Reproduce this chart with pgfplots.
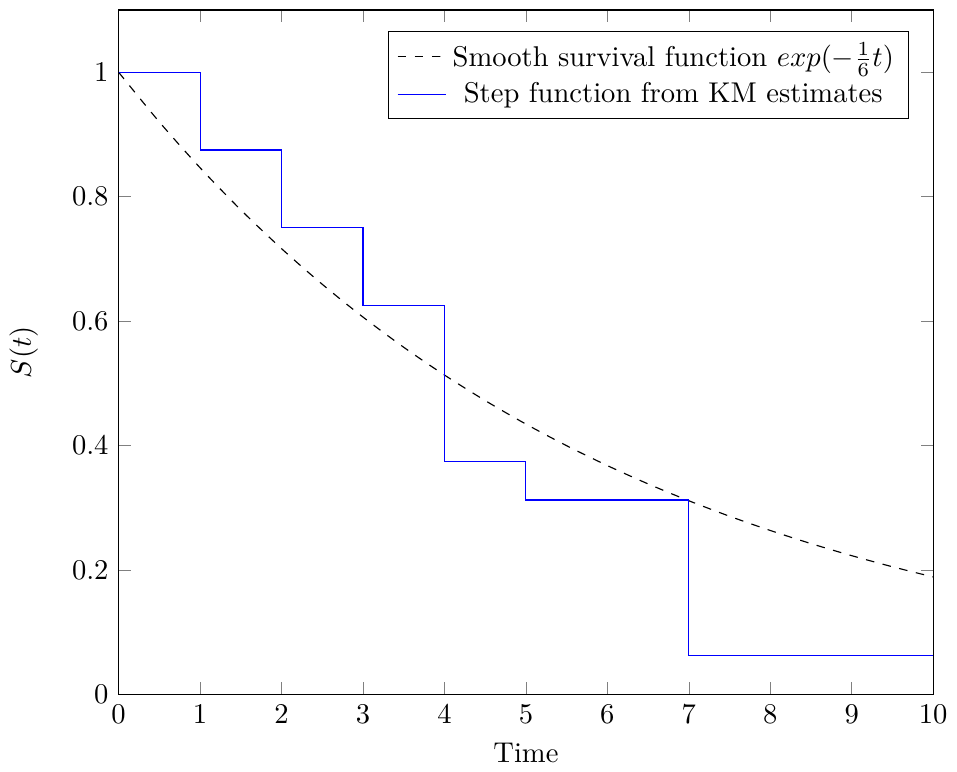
\documentclass[border=0pt]{standalone}
\usepackage{pgfplots}
\pgfplotsset{compat=1.18}
\begin{document}
\begin{tikzpicture}
\begin{axis}[
  scale only axis,
  width=285pt, height=239.5pt,
  xmin=0, xmax=10, ymin=0, ymax=1.1,
  xtick={0,1,...,10},
  ytick={0,0.2,0.4,0.6,0.8,1},
  xlabel={Time}, ylabel={$S(t)$},
  ylabel shift=5pt,
  legend pos=north east,
  legend cell align=center,
]
\addplot[black, dashed, smooth] coordinates {
(0,1) (0.5,0.92004) (1,0.84648) (1.5,0.77880) (2,0.71653) (2.5,0.65924)
(3,0.60653) (3.5,0.55804) (4,0.51342) (4.5,0.47237) (5,0.43460)
(5.5,0.39985) (6,0.36788) (6.5,0.33846) (7,0.31140) (7.5,0.28650)
(8,0.26360) (8.5,0.24252) (9,0.22313) (9.5,0.20529) (10,0.18888)
};
\addlegendentry{Smooth survival function $exp(-\frac{1}{6}t)$}
\addplot[blue, const plot] coordinates {
(0,1) (1,0.875) (2,0.75) (3,0.625) (4,0.375) (5,0.3125) (7,0.0625) (10,0.0625)
};
\addlegendentry{Step function from KM estimates}
\end{axis}
\path ([yshift=3.5pt]current axis.north east);
\end{tikzpicture}
\end{document}
